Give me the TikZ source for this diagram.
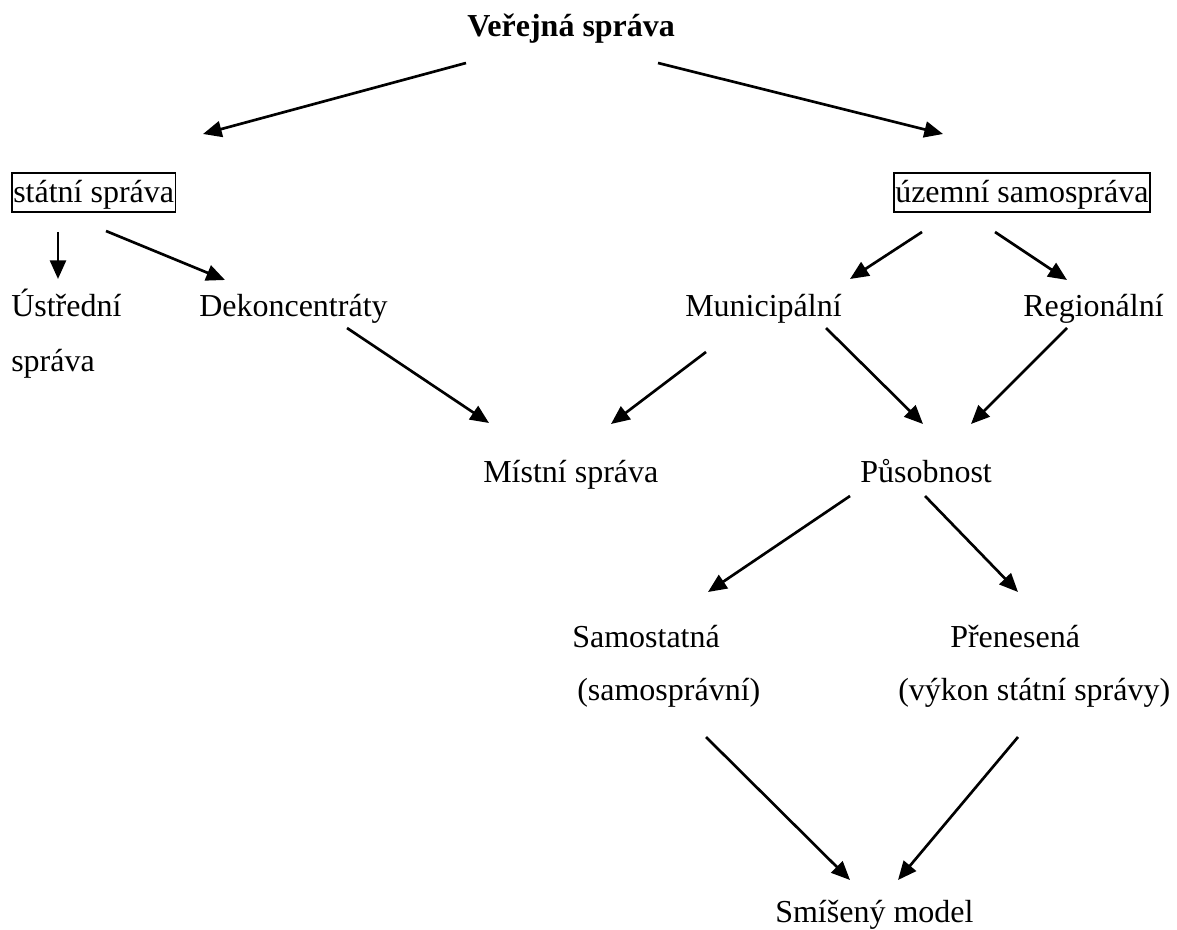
\documentclass[tikz,border=0pt]{standalone}
\usepackage{fontspec}
\setmainfont{Liberation Serif}
\usetikzlibrary{arrows.meta}
\begin{document}
\begin{tikzpicture}[x=0.75pt,y=-0.75pt,
  txt/.style={anchor=base west,inner sep=0pt,font=\fontsize{24pt}{29pt}\selectfont},
  boxed/.style={txt,draw,line width=1.4pt,inner xsep=1pt,inner ysep=0.6pt,text height=22pt,text depth=6pt},
  arr/.style={line width=2pt,-{Triangle[length=14pt,width=12pt]}}]
\useasboundingbox (0,0) rectangle (1177,930);
% texts
\node[txt,font=\fontsize{24pt}{29pt}\selectfont\bfseries] (ver) at (467,37) {Veřejná správa};
\node[boxed] (stat) at (11,203) {státní správa};
\node[boxed] (uzem) at (893,203) {územní samospráva};
\node[txt] (ustr) at (11,317) {Ústřední};
\node[txt] (ustr2) at (11,371) {správa};
\node[txt] (dek) at (199,317) {Dekoncentráty};
\node[txt] (mun) at (685,317) {Municipální};
\node[txt] (reg) at (1023,317) {Regionální};
\node[txt] (mist) at (483,482) {Místní správa};
\node[txt] (pus) at (860,482) {Působnost};
\node[txt] (sam) at (572,647) {Samostatná};
\node[txt] (sam2) at (577,700) {(samosprávní)};
\node[txt] (pre) at (950,647) {Přenesená};
\node[txt] (pre2) at (898,700) {(výkon státní správy)};
\node[txt] (smi) at (775,922) {Smíšený model};
% arrow end points
\coordinate (a1s) at (466,63);   \coordinate (a1e) at (203,134);
\coordinate (a2s) at (658,63);   \coordinate (a2e) at (943,134);
\coordinate (a3s) at (58,232);   \coordinate (a3e) at (58,279);
\coordinate (a4s) at (106,231);  \coordinate (a4e) at (225,280);
\coordinate (a5s) at (922,232);  \coordinate (a5e) at (850,279);
\coordinate (a6s) at (995,232);  \coordinate (a6e) at (1067,280);
\coordinate (a7s) at (347,328);  \coordinate (a7e) at (489,423);
\coordinate (a8s) at (706,352);  \coordinate (a8e) at (611,424);
\coordinate (a9s) at (826,328);  \coordinate (a9e) at (923,424);
\coordinate (a10s) at (1067,328); \coordinate (a10e) at (971,424);
\coordinate (a11s) at (850,496); \coordinate (a11e) at (708,592);
\coordinate (a12s) at (925,496); \coordinate (a12e) at (1018,592);
\coordinate (a13s) at (706,737); \coordinate (a13e) at (850,880);
\coordinate (a14s) at (1018,737); \coordinate (a14e) at (898,880);
% connectors
\draw[arr] (a1s) -- (a1e);
\draw[arr] (a2s) -- (a2e);
\draw[arr] (a3s) -- (a3e);
\draw[arr] (a4s) -- (a4e);
\draw[arr] (a5s) -- (a5e);
\draw[arr] (a6s) -- (a6e);
\draw[arr] (a7s) -- (a7e);
\draw[arr] (a8s) -- (a8e);
\draw[arr] (a9s) -- (a9e);
\draw[arr] (a10s) -- (a10e);
\draw[arr] (a11s) -- (a11e);
\draw[arr] (a12s) -- (a12e);
\draw[arr] (a13s) -- (a13e);
\draw[arr] (a14s) -- (a14e);
\end{tikzpicture}
\end{document}
